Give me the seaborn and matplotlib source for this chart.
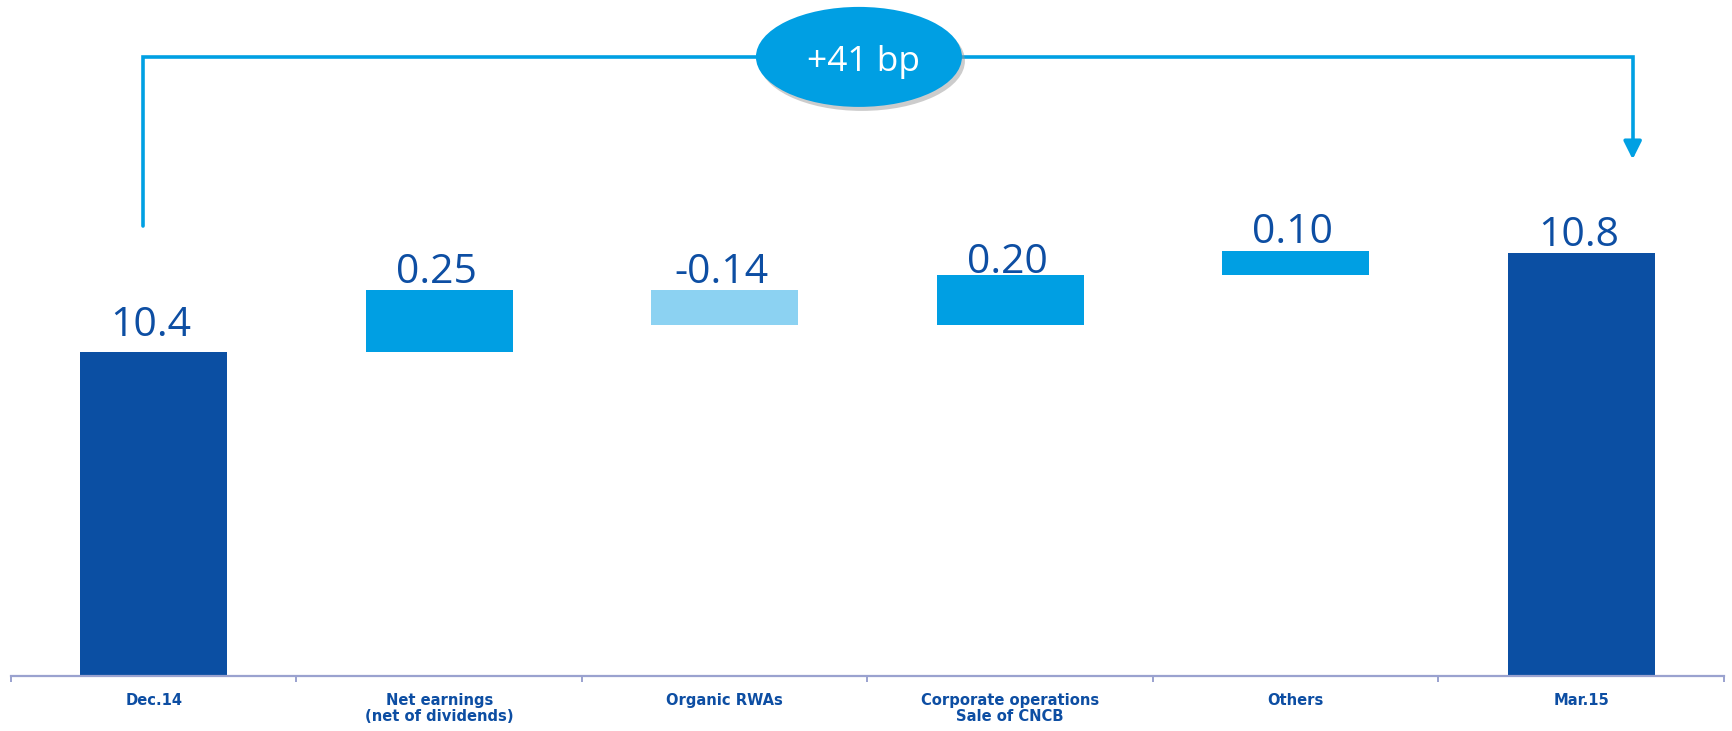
import numpy as np
import pandas as pd
import matplotlib
matplotlib.use("Agg")
import matplotlib.pyplot as plt
from matplotlib.patches import Ellipse
import matplotlib.transforms as mtransforms
import seaborn as sns

# ---- data ----
categories = ["Dec.14", "Net earnings\n(net of dividends)", "Organic RWAs",
              "Corporate operations\nSale of CNCB", "Others", "Mar.15"]
start_value = 10.4
deltas = [0.25, -0.14, 0.20, 0.10]
end_value = 10.8
value_labels = ["10.4", "0.25", "-0.14", "0.20", "0.10", "10.8"]
bracket_text = "+41 bp"

# ---- style ----
DARK = "#0B4FA3"
MID = "#009FE3"
LIGHT = "#8CD2F2"
TEXT = "#0D4EA3"
AXIS = "#9AA2CF"

sns.set_theme(style="white")
plt.rcParams["font.family"] = ["Open Sans", "DejaVu Sans"]

# waterfall geometry from the data
cum = np.concatenate([[start_value], start_value + np.cumsum(deltas)])
bottoms, heights, colors = [], [], []
ymin = 9.086
bottoms.append(ymin); heights.append(start_value - ymin); colors.append(DARK)
for i, d in enumerate(deltas):
    lo = min(cum[i], cum[i + 1])
    bottoms.append(lo); heights.append(abs(d)); colors.append(MID if d >= 0 else LIGHT)
bottoms.append(ymin); heights.append(end_value - ymin); colors.append(DARK)
tops = np.array(bottoms) + np.array(heights)

df = pd.DataFrame({"category": categories, "height": heights})

W, H = 1733, 731
fig = plt.figure(figsize=(W / 100, H / 100), dpi=100)
ax = fig.add_axes([11 / W, 55 / H, 1713 / W, 676 / H])

sns.barplot(data=df, x="category", y="height", ax=ax, color=DARK,
            width=0.515, bottom=bottoms, saturation=1, linewidth=0)
for p, c in zip(ax.patches, colors):
    p.set_facecolor(c)
    p.set_edgecolor(c)

ax.set_xlim(-0.5, len(categories) - 0.5)
ax.set_ylim(ymin, ymin + 676 / 246.75)

# axes styling
for s in ["left", "top", "right"]:
    ax.spines[s].set_visible(False)
ax.spines["bottom"].set_color(AXIS)
ax.spines["bottom"].set_linewidth(1.6)
ax.set_yticks([])
ax.set_xlabel(""); ax.set_ylabel("")
ax.tick_params(axis="x", which="major", length=0, pad=12.5)
ax.set_xticks(np.arange(-0.5, len(categories)), minor=True)
ax.tick_params(axis="x", which="minor", length=4, width=1.4, color=AXIS,
               direction="out", bottom=True)
for lab in ax.get_xticklabels():
    lab.set_fontfamily(["DejaVu Sans"])
    lab.set_fontstretch("condensed")
    lab.set_fontweight("bold")
    lab.set_fontsize(11.8)
    lab.set_color(TEXT)
    lab.set_linespacing(1.02)

# value labels
offsets_px = [16, 7, 7, 2, 8, 7]
for i, (t, lab) in enumerate(zip(tops, value_labels)):
    ax.annotate(lab, (i, t), xytext=(-3 * 0.72, offsets_px[i] * 0.72),
                textcoords="offset points",
                ha="center", va="baseline", fontsize=29.5, color=TEXT)

# bracket with arrow
LINE = "#00A0E3"
xl, xr = -0.038, 5.18
yh = 11.595
ax.plot([xl, xl, xr, xr], [10.91, yh, yh, 11.24], color=LINE, lw=2.6,
        solid_joinstyle="miter", clip_on=False)
ax.annotate("", xy=(xr, 11.18), xytext=(xr, 11.25),
            arrowprops=dict(arrowstyle="-|>,head_length=0.9,head_width=0.45",
                            color=LINE, lw=2.6, shrinkA=0, shrinkB=0))

# ellipse with shadow
cx, cy = 2.470, yh
ew, eh = 206 / 285.5, 100 / 246.75
shadow_tr = ax.transData + mtransforms.ScaledTranslation(3 / 100, -4 / 100, fig.dpi_scale_trans)
ax.add_patch(Ellipse((cx, cy), ew, eh, facecolor="#9a9a9a", alpha=0.5,
                     edgecolor="none", transform=shadow_tr, clip_on=False, zorder=4))
ax.add_patch(Ellipse((cx, cy), ew, eh, facecolor=MID, edgecolor="none",
                     clip_on=False, zorder=5))
ax.annotate(bracket_text, (cx, cy), xytext=(3, -4), textcoords="offset points",
            ha="center", va="center", color="white", fontsize=25.5, zorder=6)

fig.savefig("out.png", dpi=100)
